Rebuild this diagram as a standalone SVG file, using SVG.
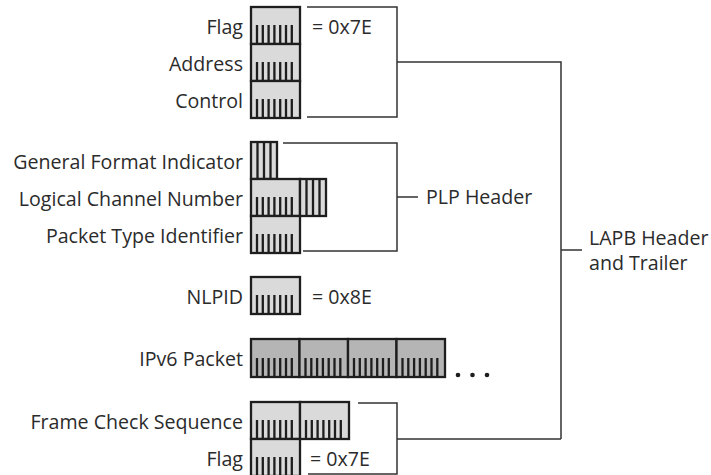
<svg xmlns="http://www.w3.org/2000/svg" xmlns:xlink="http://www.w3.org/1999/xlink" width="711" height="475" viewBox="0 0 711 475">
<style>
text{font-family:"Open Sans","Liberation Sans",sans-serif;font-size:19.6px;fill:#2b2b2b}
.lbl{text-anchor:end}
.ln{fill:none;stroke:#333;stroke-width:1.5}
.box{stroke:#1e1e1e;stroke-width:2.3}
.tick{stroke:#1e1e1e;stroke-width:2.3}
</style>
<defs>
<g id="byte">
<rect class="box" x="0" y="0" width="49" height="37" fill="#dadada"/>
<path class="tick" d="M6 18V37M11.8 18V37M17.6 18V37M23.4 18V37M29.2 18V37M35 18V37M40.8 18V37"/>
</g>
<g id="byte2">
<rect class="box" x="0" y="0" width="48.5" height="38" fill="#b5b5b5"/>
<path class="tick" d="M6 19V38M11.8 19V38M17.6 19V38M23.4 19V38M29.2 19V38M35 19V38M40.8 19V38"/>
</g>
<g id="nib">
<rect class="box" x="0" y="0" width="26" height="37" fill="#dadada"/>
<path class="tick" d="M6.5 0V37M13 0V37M19.5 0V37"/>
</g>
</defs>
<g id="connectors">
<path class="ln" d="M307 7H397V117H307M397 62H561V439M561 250H582"/>
<path class="ln" d="M283 143H397V251H303M397 197H418"/>
<path class="ln" d="M358 403H397V474H308M397 439H561"/>
</g>
<g id="flag1"><use xlink:href="#byte" x="251" y="7"/><text class="lbl" x="243" y="33.5">Flag</text><text x="312" y="33.5">= 0x7E</text></g>
<g id="address"><use xlink:href="#byte" x="251" y="44"/><text class="lbl" x="243" y="70.5">Address</text></g>
<g id="control"><use xlink:href="#byte" x="251" y="81"/><text class="lbl" x="243" y="107.5">Control</text></g>
<g id="gfi"><use xlink:href="#nib" x="251" y="142"/><text class="lbl" x="243" y="168.5">General Format Indicator</text></g>
<g id="lcn"><use xlink:href="#byte" x="251" y="179"/><use xlink:href="#nib" x="300" y="179"/><text class="lbl" x="243" y="205.5">Logical Channel Number</text></g>
<g id="pti"><use xlink:href="#byte" x="251" y="216"/><text class="lbl" x="243" y="242.5">Packet Type Identifier</text></g>
<g id="plp"><text x="426" y="204">PLP Header</text></g>
<g id="lapb"><text x="589" y="245">LAPB Header</text><text x="589" y="270">and Trailer</text></g>
<g id="nlpid"><use xlink:href="#byte" x="251" y="277"/><text class="lbl" x="243" y="303.5">NLPID</text><text x="312" y="303.5">= 0x8E</text></g>
<g id="ipv6"><use xlink:href="#byte2" x="251" y="339"/><use xlink:href="#byte2" x="299.5" y="339"/><use xlink:href="#byte2" x="348" y="339"/><use xlink:href="#byte2" x="396.5" y="339"/><text class="lbl" x="243" y="365.5">IPv6 Packet</text>
<circle cx="458" cy="375" r="2.3" fill="#1e1e1e"/><circle cx="472.5" cy="375" r="2.3" fill="#1e1e1e"/><circle cx="487" cy="375" r="2.3" fill="#1e1e1e"/></g>
<g id="fcs"><use xlink:href="#byte" x="251" y="402"/><use xlink:href="#byte" x="300" y="402"/><text class="lbl" x="243" y="428.5">Frame Check Sequence</text></g>
<g id="flag2"><use xlink:href="#byte" x="251" y="439"/><text class="lbl" x="243" y="465.5">Flag</text><text x="310" y="465.5">= 0x7E</text></g>
</svg>
